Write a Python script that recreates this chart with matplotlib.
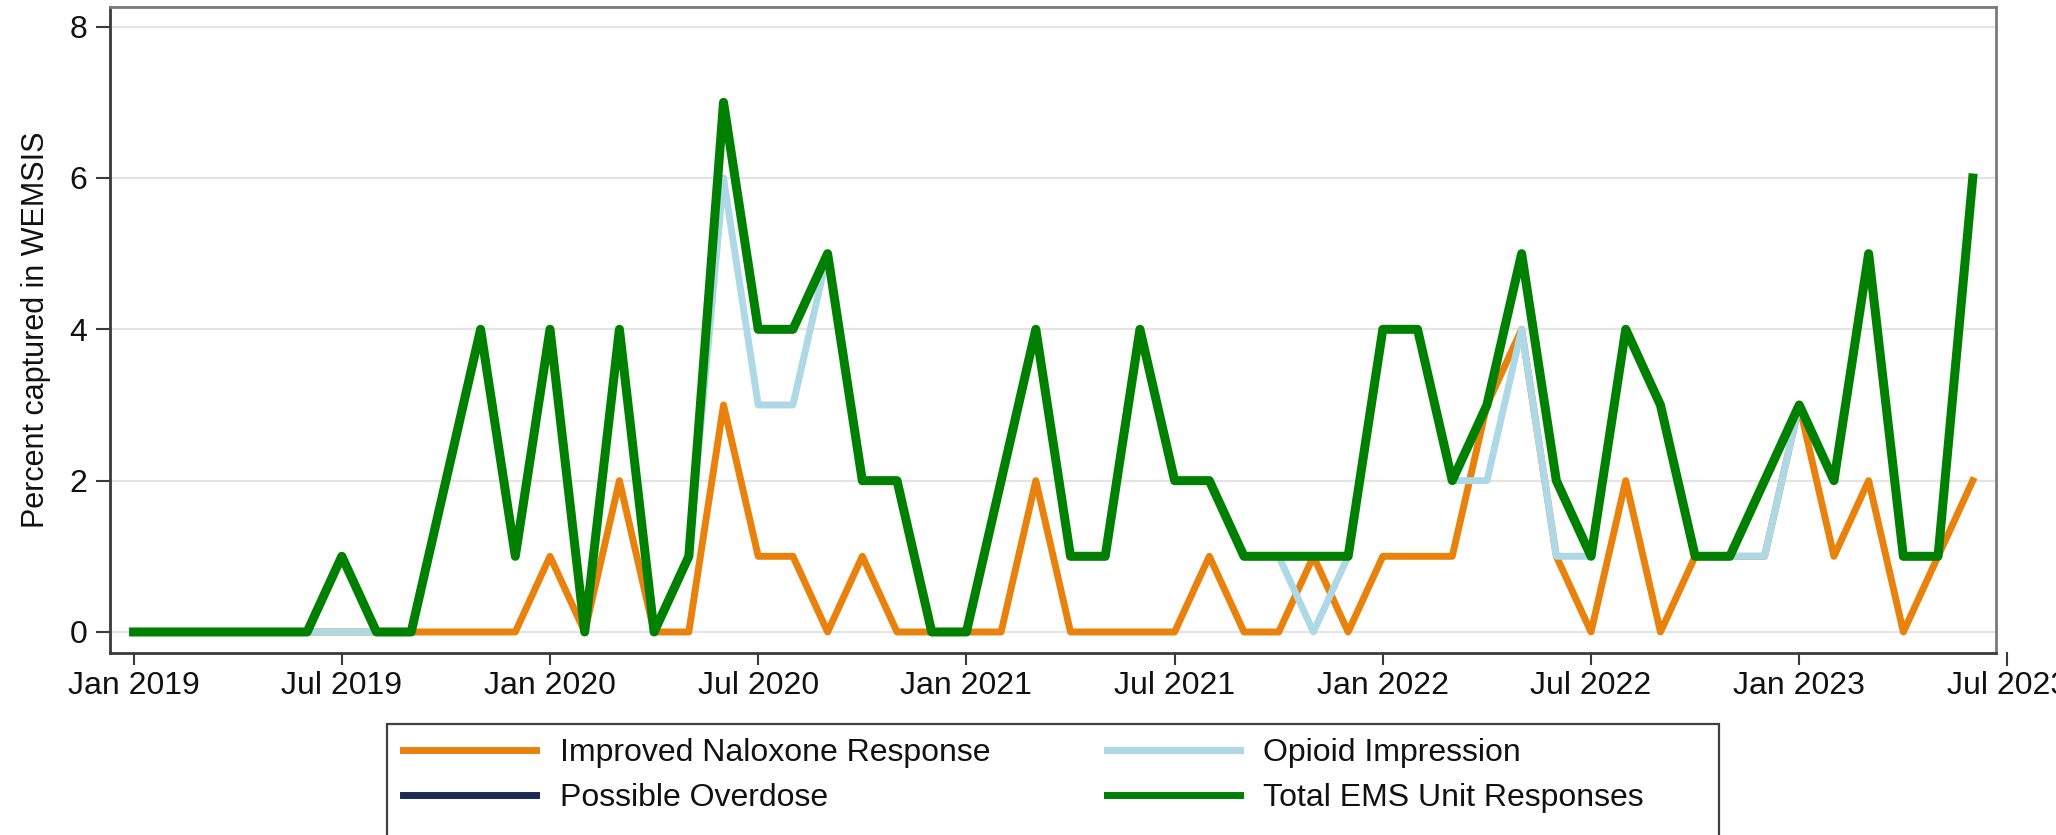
import matplotlib
matplotlib.use("Agg")
import matplotlib.pyplot as plt
import matplotlib.transforms as mtransforms
from matplotlib.patches import Rectangle
import numpy as np

plt.rcParams['font.family'] = ['Liberation Sans', 'DejaVu Sans']

# Monthly values, Jan 2019 .. Jun 2023
months = ["Jan 2019", "Feb 2019", "Mar 2019", "Apr 2019", "May 2019", "Jun 2019",
          "Jul 2019", "Aug 2019", "Sep 2019", "Oct 2019", "Nov 2019", "Dec 2019",
          "Jan 2020", "Feb 2020", "Mar 2020", "Apr 2020", "May 2020", "Jun 2020",
          "Jul 2020", "Aug 2020", "Sep 2020", "Oct 2020", "Nov 2020", "Dec 2020",
          "Jan 2021", "Feb 2021", "Mar 2021", "Apr 2021", "May 2021", "Jun 2021",
          "Jul 2021", "Aug 2021", "Sep 2021", "Oct 2021", "Nov 2021", "Dec 2021",
          "Jan 2022", "Feb 2022", "Mar 2022", "Apr 2022", "May 2022", "Jun 2022",
          "Jul 2022", "Aug 2022", "Sep 2022", "Oct 2022", "Nov 2022", "Dec 2022",
          "Jan 2023", "Feb 2023", "Mar 2023", "Apr 2023", "May 2023", "Jun 2023"]

naloxone = [0, 0, 0, 0, 0, 0, 0, 0, 0, 0, 0, 0,
            1, 0, 2, 0, 0, 3, 1, 1, 0, 1, 0, 0,
            0, 0, 2, 0, 0, 0, 0, 1, 0, 0, 1, 0,
            1, 1, 1, 3, 4, 1, 0, 2, 0, 1, 1, 1,
            3, 1, 2, 0, 1, 2]

opioid = [0, 0, 0, 0, 0, 0, 0, 0, 0, 2, 4, 1,
          4, 0, 4, 0, 1, 6, 3, 3, 5, 2, 2, 0,
          0, 2, 4, 1, 1, 4, 2, 2, 1, 1, 0, 1,
          4, 4, 2, 2, 4, 1, 1, 4, 3, 1, 1, 1,
          3, 2, 5, 1, 1, 6]

overdose = [0, 0, 0, 0, 0, 0, 1, 0, 0, 2, 4, 1,
            4, 0, 4, 0, 1, 7, 4, 4, 5, 2, 2, 0,
            0, 2, 4, 1, 1, 4, 2, 2, 1, 1, 1, 1,
            4, 4, 2, 3, 5, 2, 1, 4, 3, 1, 1, 2,
            3, 2, 5, 1, 1, 6]

total = [0, 0, 0, 0, 0, 0, 1, 0, 0, 2, 4, 1,
         4, 0, 4, 0, 1, 7, 4, 4, 5, 2, 2, 0,
         0, 2, 4, 1, 1, 4, 2, 2, 1, 1, 1, 1,
         4, 4, 2, 3, 5, 2, 1, 4, 3, 1, 1, 2,
         3, 2, 5, 1, 1, 6]

xtick_labels = ["Jan 2019", "Jul 2019", "Jan 2020", "Jul 2020", "Jan 2021",
                "Jul 2021", "Jan 2022", "Jul 2022", "Jan 2023", "Jul 2023"]
yticks = [0, 2, 4, 6, 8]

series_names = ["Improved Naloxone Response", "Opioid Impression",
                "Possible Overdose", "Total EMS Unit Responses"]

C_ORANGE = "#E8820C"
C_LBLUE = "#ADD8E6"
C_NAVY = "#1C2A55"
C_GREEN = "#008000"

W, H = 2056, 835
fig = plt.figure(figsize=(W / 100, H / 100), dpi=100)
ax = fig.add_axes([110 / W, 1 - 653 / H, (1996 - 110) / W, (653 - 7.3) / H])

x = np.arange(len(months))
l1, = ax.plot(x, naloxone, color=C_ORANGE, lw=5, zorder=2)
l2, = ax.plot(x, opioid, color=C_LBLUE, lw=5, zorder=3)
l3, = ax.plot(x, overdose, color=C_NAVY, lw=5, zorder=4)
l4, = ax.plot(x, total, color=C_GREEN, lw=6.5, zorder=5)

ax.set_xlim(-0.68, 53.67)
ax.set_ylim(-0.278, 8.256)

tick_pos = [months.index(m) if m in months else len(months) for m in xtick_labels]
inside = [(p, t) for p, t in zip(tick_pos, xtick_labels) if p <= 53.67]
ax.set_xticks([p for p, _ in inside])
ax.set_xticklabels([t for _, t in inside])
ax.set_yticks(yticks)
ax.set_yticklabels([str(v) for v in yticks])

ax.grid(axis='y', color='#e4e4e4', lw=1.6, zorder=0)
ax.set_axisbelow(True)

ax.tick_params(axis='x', length=8.6, width=1.5, color='#3a3a3a', pad=4.5,
               labelsize=23, labelcolor='#111111')
ax.tick_params(axis='y', length=10, width=1.5, color='#3a3a3a', pad=6.5,
               labelsize=23, labelcolor='#111111')

for s in ['left', 'bottom']:
    ax.spines[s].set_color('#3a3a3a')
    ax.spines[s].set_linewidth(2)
for s in ['top', 'right']:
    ax.spines[s].set_color('#7a7a7a')
    ax.spines[s].set_linewidth(2)

# out-of-range last tick (Jul 2023) drawn beyond the plot box
trans = mtransforms.blended_transform_factory(ax.transData, ax.transAxes)
for p, t in zip(tick_pos, xtick_labels):
    if p > 53.67:
        ax.plot([p, p], [0, -12 / 646], transform=trans, color='#3a3a3a', lw=1.5,
                clip_on=False)
        ax.text(p, -(12 + 6.5) / 646, t, transform=trans, ha='center', va='top',
                fontsize=23, color='#111111', clip_on=False)

fig.text(36 / W, 1 - 330 / H, "Percent captured in WEMSIS", rotation=90,
         ha='center', va='center', fontsize=22, color='#111111')

# legend frame
fig.patches.append(Rectangle((387 / W, -0.05), (1719 - 387) / W, 0.05 + (1 - 724 / H),
                             transform=fig.transFigure, fill=False,
                             edgecolor='#404040', lw=1.6))

handles = [l1, l3, l2, l4]
labels = [series_names[0], series_names[2], series_names[1], series_names[3]]
leg = fig.legend(handles, labels, loc='upper left',
                 bbox_to_anchor=(403 / W, 1 - 738 / H), ncol=2, frameon=False,
                 fontsize=23, handlelength=4.15, handletextpad=0.75,
                 columnspacing=3.66, labelspacing=0.47, borderpad=0,
                 borderaxespad=0)
for lh in leg.get_lines():
    lh.set_linewidth(5)
for txt in leg.get_texts():
    txt.set_color('#111111')

fig.savefig("out.png", dpi=100)
